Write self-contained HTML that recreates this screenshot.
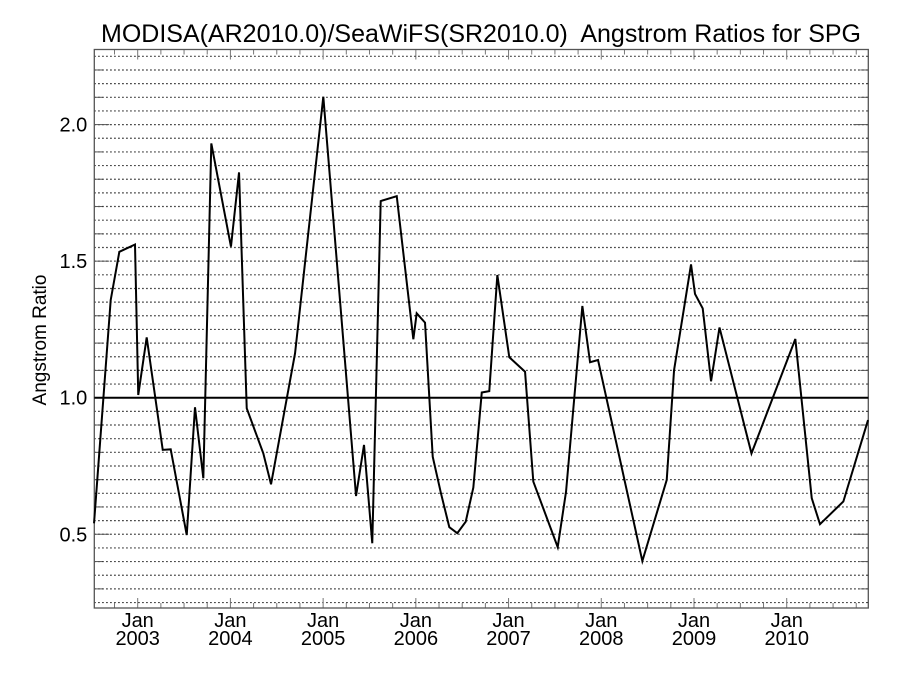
<!DOCTYPE html>
<html><head><meta charset="utf-8">
<style>
html,body{margin:0;padding:0;background:#fff;}
svg{display:block;font-family:"Liberation Sans",sans-serif;}
</style></head>
<body>
<svg id="chart" width="900" height="675" viewBox="0 0 900 675" xmlns="http://www.w3.org/2000/svg">
<text x="481" y="42" font-size="25" text-anchor="middle" fill="#000" xml:space="preserve">MODISA(AR2010.0)/SeaWiFS(SR2010.0)&#160; Angstrom Ratios for SPG</text>
<text transform="translate(46,340) rotate(-90)" font-size="19" text-anchor="middle" fill="#000">Angstrom Ratio</text>
<g id="grid"></g>
<g id="axes"></g>
<g id="series"></g>
</svg>
<script>
const dates = [2002.529,2002.709,2002.802,2002.971,2003.006,2003.097,2003.270,2003.356,2003.529,2003.618,2003.708,2003.794,2004.006,2004.093,2004.176,2004.355,2004.438,2004.697,2005.002,2005.355,2005.441,2005.530,2005.621,2005.794,2005.973,2006.009,2006.099,2006.182,2006.271,2006.361,2006.447,2006.538,2006.620,2006.711,2006.792,2006.879,2007.008,2007.178,2007.267,2007.530,2007.620,2007.796,2007.879,2007.965,2008.443,2008.706,2008.785,2008.968,2009.011,2009.094,2009.184,2009.275,2009.620,2010.093,2010.270,2010.359,2010.611,2010.877];
const ratios = [0.54,1.358,1.534,1.561,1.01,1.221,0.809,0.811,0.497,0.965,0.705,1.931,1.553,1.825,0.961,0.796,0.683,1.162,2.102,0.64,0.827,0.467,1.72,1.738,1.214,1.309,1.275,0.784,0.65,0.526,0.504,0.546,0.671,1.019,1.024,1.449,1.148,1.095,0.693,0.453,0.656,1.336,1.13,1.138,0.402,0.699,1.101,1.488,1.38,1.327,1.06,1.257,0.796,1.215,0.632,0.537,0.62,0.918];
const yTickLabels = ["0.5","1.0","1.5","2.0"];
const yTickValues = [0.5,1.0,1.5,2.0];
const xTickYears = [2003,2004,2005,2006,2007,2008,2009,2010];
const refValue = 1.0;

const NS="http://www.w3.org/2000/svg";
const L=94.3,R=868.3,T=49.5,B=608;
const xMin=2002.532,xMax=2010.880,yMin=0.230,yMax=2.275;
function xs(t){return L+(t-xMin)/(xMax-xMin)*(R-L);}
function ys(v){return B-(v-yMin)/(yMax-yMin)*(B-T);}
function mk(tag,attrs,parent){const e=document.createElementNS(NS,tag);for(const k in attrs)e.setAttribute(k,attrs[k]);parent.appendChild(e);return e;}
const grid=document.getElementById('grid'),axes=document.getElementById('axes'),series=document.getElementById('series');

for(let i=5;i<=45;i++){
  const v=i*0.05;
  const y=ys(v);
  const g=mk('line',{x1:L,x2:R,y1:y,y2:y,stroke:'#000','stroke-width':1.2,'stroke-dasharray':'1.3 2.7'},grid);
  
  
  if(i%2===0){
    const len=(i%10===0)?15:8;
    const t1=mk('line',{x1:L,x2:L+len,y1:y,y2:y,stroke:'#555','stroke-width':1},axes);
    
    
    const t2=mk('line',{x1:R-len,x2:R,y1:y,y2:y,stroke:'#555','stroke-width':1},axes);
    
    
  }
}
yTickValues.forEach((v,i)=>{
  const t=mk('text',{x:L-7,y:ys(v)+7,'font-size':20,'text-anchor':'end',fill:'#000'},axes);
  t.textContent=yTickLabels[i];
  
  
});
for(let q=2002.5;q<=xMax;q+=0.25){
  if(q<xMin)continue;
  const x=xs(q);
  const major=Math.abs(q-Math.round(q))<1e-6;
  const len=major?10:5;
  const a=mk('line',{x1:x,x2:x,y1:B,y2:B-len,stroke:'#777','stroke-width':1},axes);
  
  
  const b=mk('line',{x1:x,x2:x,y1:T,y2:T+len,stroke:'#777','stroke-width':1},axes);
  
  
}
xTickYears.forEach(yr=>{
  const x=xs(yr);
  const t1=mk('text',{x:x,y:627,'font-size':20,'text-anchor':'middle',fill:'#000'},axes);
  t1.textContent='Jan';
  
  
  const t2=mk('text',{x:x,y:645,'font-size':20,'text-anchor':'middle',fill:'#000'},axes);
  t2.textContent=String(yr);
  
  
});
const frame=mk('rect',{x:L,y:T,width:R-L,height:B-T,fill:'none',stroke:'#555','stroke-width':1.3},axes);



const ref=mk('line',{x1:L,x2:R,y1:ys(refValue),y2:ys(refValue),stroke:'#000','stroke-width':2},series);



const pts=dates.map((d,i)=>xs(d).toFixed(2)+','+ys(ratios[i]).toFixed(2)).join(' ');
const pl=mk('polyline',{points:pts,fill:'none',stroke:'#000','stroke-width':2,'stroke-linejoin':'miter'},series);


</script>
</body></html>
